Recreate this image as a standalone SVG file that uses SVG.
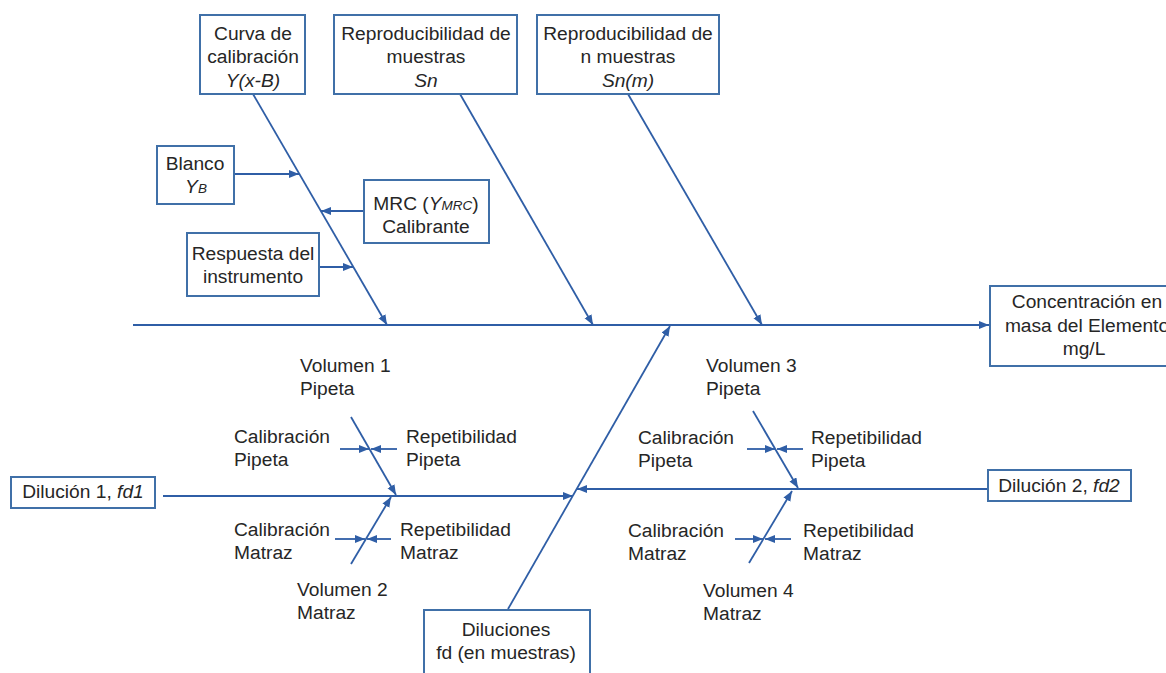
<svg xmlns="http://www.w3.org/2000/svg" width="1166" height="673" viewBox="0 0 1166 673">
<defs>
<marker id="ah" markerUnits="userSpaceOnUse" markerWidth="11" markerHeight="9" refX="10" refY="4" orient="auto">
<path d="M0,0 L10,4 L0,8 z" fill="#2F5EA6"/>
</marker>
<style>
.box{fill:#fff;stroke:#4070A8;stroke-width:2}
.ln{stroke:#2F5EA6;stroke-width:1.8;fill:none}
.ar{stroke:#2F5EA6;stroke-width:1.8;fill:none;marker-end:url(#ah)}
text{font-family:"Liberation Sans",Arial,sans-serif;font-size:19.2px;fill:#262626}
.c{text-anchor:middle}
.i{font-style:italic}
.s{font-size:13.5px;font-style:italic}
</style>
</defs>
<rect width="1166" height="673" fill="#fff"/>

<g id="connectors">
<line class="ar" x1="133" y1="325" x2="989" y2="325"/>
<line class="ar" x1="253" y1="94" x2="387" y2="325"/>
<line class="ar" x1="460" y1="94" x2="593" y2="325"/>
<line class="ar" x1="628" y1="94" x2="762" y2="325"/>
<line class="ar" x1="234" y1="174" x2="299" y2="174"/>
<line class="ar" x1="364" y1="211" x2="321" y2="211"/>
<line class="ar" x1="319" y1="267" x2="353" y2="267"/>
<line class="ar" x1="508" y1="609" x2="670" y2="326"/>
<line class="ar" x1="163" y1="496" x2="573" y2="496"/>
<line class="ar" x1="351" y1="417" x2="396" y2="495"/>
<line class="ar" x1="351" y1="564" x2="391" y2="497"/>
<line class="ar" x1="340" y1="449" x2="369" y2="449"/>
<line class="ar" x1="397" y1="449" x2="371" y2="449"/>
<line class="ar" x1="335" y1="539" x2="365" y2="539"/>
<line class="ar" x1="391" y1="539" x2="367" y2="539"/>
<line class="ar" x1="988" y1="489" x2="577" y2="489"/>
<line class="ar" x1="753" y1="411" x2="798" y2="488"/>
<line class="ar" x1="749" y1="563" x2="792" y2="491"/>
<line class="ar" x1="747" y1="449" x2="775" y2="449"/>
<line class="ar" x1="803" y1="449" x2="777" y2="449"/>
<line class="ar" x1="735" y1="539" x2="763" y2="539"/>
<line class="ar" x1="791" y1="539" x2="765" y2="539"/>
</g>

<g id="curva">
<rect class="box" x="200" y="15" width="105" height="79"/>
<text class="c" x="253" y="40">Curva de</text>
<text class="c" x="253" y="63">calibración</text>
<text class="c i" x="253" y="87">Y(x-B)</text>
</g>
<g id="repro-muestras">
<rect class="box" x="334" y="15" width="183" height="79"/>
<text class="c" x="426" y="40">Reproducibilidad de</text>
<text class="c" x="426" y="63">muestras</text>
<text class="c i" x="426" y="87">Sn</text>
</g>
<g id="repro-n">
<rect class="box" x="537" y="15" width="182" height="79"/>
<text class="c" x="628" y="40">Reproducibilidad de</text>
<text class="c" x="628" y="63">n muestras</text>
<text class="c i" x="628" y="87">Sn(m)</text>
</g>
<g id="blanco">
<rect class="box" x="157" y="146" width="77" height="58"/>
<text class="c" x="195" y="170">Blanco</text>
<text class="c" x="196" y="193"><tspan class="i">Y</tspan><tspan class="s">B</tspan></text>
</g>
<g id="mrc">
<rect class="box" x="364" y="180" width="125" height="63"/>
<text class="c" x="426" y="210">MRC (<tspan class="i">Y</tspan><tspan class="s">MRC</tspan>)</text>
<text class="c" x="426" y="233">Calibrante</text>
</g>
<g id="respuesta">
<rect class="box" x="187" y="233" width="132" height="63"/>
<text class="c" x="253" y="260">Respuesta del</text>
<text class="c" x="253" y="283">instrumento</text>
</g>
<g id="concentracion">
<rect class="box" x="990" y="286" width="190" height="80"/>
<text class="c" x="1087" y="308">Concentración en</text>
<text class="c" x="1087" y="332">masa del Elemento</text>
<text class="c" x="1084" y="355">mg/L</text>
</g>
<g id="dilucion1">
<rect class="box" x="11" y="477" width="144" height="31"/>
<text class="c" x="83" y="498">Dilución 1, <tspan class="i">fd1</tspan></text>
</g>
<g id="dilucion2">
<rect class="box" x="988" y="470" width="143" height="31"/>
<text class="c" x="1059" y="492">Dilución 2, <tspan class="i">fd2</tspan></text>
</g>
<g id="diluciones">
<rect class="box" x="424" y="610" width="166" height="70"/>
<text class="c" x="506" y="636">Diluciones</text>
<text class="c" x="506" y="659">fd (en muestras)</text>
</g>
<g id="labels-left">
<text x="300" y="372">Volumen 1</text>
<text x="300" y="395">Pipeta</text>
<text x="234" y="443">Calibración</text>
<text x="234" y="466">Pipeta</text>
<text x="406" y="443">Repetibilidad</text>
<text x="406" y="466">Pipeta</text>
<text x="234" y="536">Calibración</text>
<text x="234" y="559">Matraz</text>
<text x="400" y="536">Repetibilidad</text>
<text x="400" y="559">Matraz</text>
<text x="297" y="596">Volumen 2</text>
<text x="297" y="619">Matraz</text>
</g>
<g id="labels-right">
<text x="706" y="372">Volumen 3</text>
<text x="706" y="395">Pipeta</text>
<text x="638" y="444">Calibración</text>
<text x="638" y="467">Pipeta</text>
<text x="811" y="444">Repetibilidad</text>
<text x="811" y="467">Pipeta</text>
<text x="628" y="537">Calibración</text>
<text x="628" y="560">Matraz</text>
<text x="803" y="537">Repetibilidad</text>
<text x="803" y="560">Matraz</text>
<text x="703" y="597">Volumen 4</text>
<text x="703" y="620">Matraz</text>
</g>
</svg>
